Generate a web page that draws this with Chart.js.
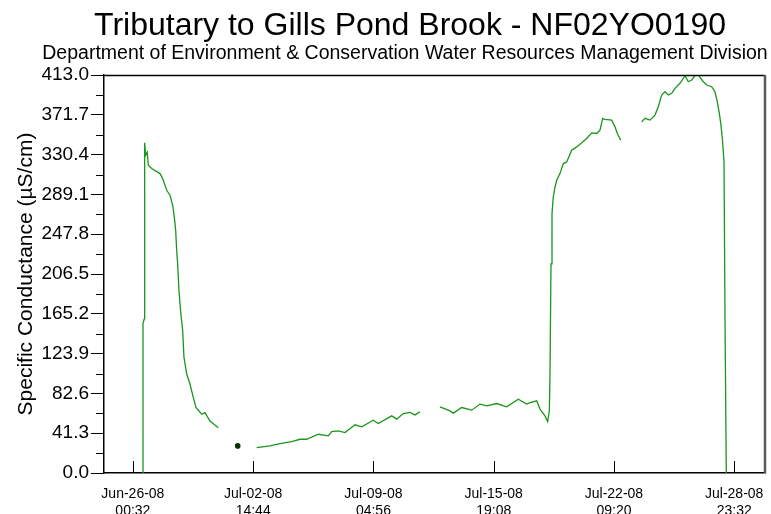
<!DOCTYPE html>
<html>
<head>
<meta charset="utf-8">
<script src="https://cdn.jsdelivr.net/npm/chart.js@4"></script>
<style>
  html, body { margin: 0; padding: 0; background: #fff; }
  #wrap { width: 771px; height: 514px; position: relative; }
</style>
</head>
<body>
<div id="wrap"><canvas id="c" width="771" height="514"></canvas></div>
<script>
// hours since Jun-26-08 00:32, null = gap in record
const hours = [
  12.9, 13.3, 15.0, 15.5, 16.8, 18.9, 20.3, 24.7, 35.7, 39.2, 44.5, 48.8, 52.4, 54.5, 56.3, 57.6,
  58.9, 60.6, 62.9, 65.5, 67.2, 70.8, 75.1, 79.5, 83.0, 90.5, 94.8, 101.4, 112.3, 125.0,
  137.9, 150.0,
  162.9, 180.4, 193.5, 208.9, 219.8, 228.6, 243.9, 257.0, 261.5, 270.2, 279.0, 292.2, 301.0,
  316.2, 322.8, 340.4, 347.0, 355.7, 364.5, 371.1, 377.7, 390.0,
  404.0, 417.1, 421.5, 432.5, 445.7, 456.6, 465.4, 478.6, 491.7, 507.0, 518.0, 522.4, 531.2,
  535.5, 542.1, 545.6, 547.8, 548.7, 550.0, 551.3, 553.0, 555.3, 557.5, 561.8, 566.2, 570.6,
  577.2, 583.8, 590.4, 597.0, 603.5, 610.1, 614.4, 618.0, 621.0, 629.8, 634.2, 637.2, 641.7, 655.0,
  669.3, 673.6, 680.2, 686.8, 691.1, 695.6, 699.9, 704.3, 708.8, 713.1, 719.7, 726.3, 730.6,
  735.1, 739.4, 743.8, 750.4, 754.8, 761.4, 765.7, 768.8, 771.4, 773.3, 775.4, 777.6, 778.9, 780.6
];
const conductance = [
  0, 155, 160, 342.6, 329.8, 333, 319.4, 316, 310.7, 305.5, 293.4, 288.2, 277.8, 265.6, 251.8, 231,
  217, 189.3, 166.8, 147.7, 120, 102.7, 92.3, 78.3, 68, 61, 62.7, 54, 47, null,
  28.1, null,
  26.3, 28.1, 30.5, 32.6, 35, 35, 40.2, 38.5, 43, 43.7, 42, 50, 47.9,
  54.8, 51.3, 59.3, 55.9, 61.7, 62.8, 60.3, 63.5, null,
  68.7, 64.5, 62.1, 67.9, 65.2, 71.5, 69.7, 72.1, 68.7, 76.6, 71.5, 73.1, 74.9,
  66.3, 59.3, 53.4, 64.5, 104.4, 217, 269, 286.4, 296.8, 303.8, 310.7, 321.1, 322.8,
  335, 338.4, 342.6, 347.1, 353, 352.3, 355.8, 367.9, 366.9, 366.2, 359.2, 352.3, 345.4, null,
  364.4, 368, 366.2, 371.4, 380, 392.2, 395.6, 392.2, 394, 399.2, 404.4, 412.3, 406,
  407.8, 412.3, 413, 406, 402.6, 400.8, 395.6, 385.2, 373.1, 362.8, 347, 322.8, 158, 0
];

const xTickHours = [0, 158.2, 316.4, 474.6, 632.8, 791.0];
const xTickDates = ['Jun-26-08', 'Jul-02-08', 'Jul-09-08', 'Jul-15-08', 'Jul-22-08', 'Jul-28-08'];
const xTickTimes = ['00:32', '14:44', '04:56', '19:08', '09:20', '23:32'];
const yTicks = [0, 41.3, 82.6, 123.9, 165.2, 206.5, 247.8, 289.1, 330.4, 371.7, 413.0];
const yMinorTicks = [20.65, 61.95, 103.25, 144.55, 185.85, 227.15, 268.45, 309.75, 351.05, 392.35];

const title = 'Tributary to Gills Pond Brook - NF02YO0190';
const subtitle = 'Department of Environment & Conservation Water Resources Management Division';

const points = hours.map((h, i) => ({ x: h, y: conductance[i] }));

function isolated(i) {
  if (conductance[i] === null) return false;
  const prev = i > 0 ? conductance[i - 1] : null;
  const next = i < conductance.length - 1 ? conductance[i + 1] : null;
  return prev === null && next === null;
}

function noPad(scale) {
  scale.paddingLeft = 0;
  scale.paddingRight = 0;
  scale.paddingTop = 0;
  scale.paddingBottom = 0;
}

const framePlugin = {
  id: 'frame',
  afterDraw(chart) {
    const ctx = chart.ctx;
    const a = chart.chartArea;
    const xs = chart.scales.x, ys = chart.scales.y;
    ctx.save();
    // titles
    ctx.fillStyle = '#000';
    ctx.textAlign = 'center';
    ctx.textBaseline = 'alphabetic';
    ctx.font = '32px "Liberation Sans", Arial, sans-serif';
    ctx.fillText(title, 410, 35);
    ctx.font = '19.5px "Liberation Sans", Arial, sans-serif';
    ctx.fillText(subtitle, 405, 59);

    // top and right border
    ctx.strokeStyle = '#000';
    ctx.lineWidth = 1.5;
    ctx.beginPath();
    ctx.moveTo(a.left, a.top + 0.5);
    ctx.lineTo(a.right, a.top + 0.5);
    ctx.stroke();
    ctx.strokeStyle = '#5a5a5a';
    ctx.lineWidth = 2.5;
    ctx.beginPath();
    ctx.moveTo(a.right, a.top);
    ctx.lineTo(a.right, a.bottom);
    ctx.stroke();

    // minor y ticks
    ctx.strokeStyle = '#000';
    ctx.lineWidth = 1;
    yMinorTicks.forEach(v => {
      const y = Math.round(ys.getPixelForValue(v)) + 0.5;
      ctx.beginPath();
      ctx.moveTo(a.left - 8, y);
      ctx.lineTo(a.left, y);
      ctx.stroke();
    });
    // x ticks pointing into the plot
    xTickHours.forEach(h => {
      const x = Math.round(xs.getPixelForValue(h)) + 0.5;
      ctx.beginPath();
      ctx.moveTo(x, a.bottom);
      ctx.lineTo(x, a.bottom - 12);
      ctx.stroke();
    });
    ctx.restore();
  }
};

new Chart(document.getElementById('c'), {
  type: 'line',
  data: {
    datasets: [{
      data: points,
      borderColor: '#1a961a',
      borderWidth: 1.3,
      spanGaps: false,
      tension: 0,
      pointRadius: ctx => isolated(ctx.dataIndex) ? 2.8 : 0,
      pointBackgroundColor: '#003300',
      pointBorderColor: '#003300',
      pointBorderWidth: 0
    }]
  },
  options: {
    responsive: false,
    animation: false,
    layout: { padding: { top: 75, right: 6, left: 0, bottom: 0 } },
    plugins: {
      legend: { display: false },
      tooltip: { enabled: false }
    },
    scales: {
      x: {
        type: 'linear',
        min: -38,
        max: 831.5,
        grid: { display: false, drawTicks: false },
        border: { display: true, color: '#000', width: 1.5 },
        afterBuildTicks: scale => { scale.ticks = xTickHours.map(v => ({ value: v })); },
        afterFit: scale => { scale.height = 41; noPad(scale); },
        ticks: {
          autoSkip: false,
          maxRotation: 0,
          padding: 13,
          color: '#000',
          font: { family: '"Liberation Sans", Arial, sans-serif', size: 14 },
          callback: (v, i) => [xTickDates[i], xTickTimes[i]]
        }
      },
      y: {
        min: 0,
        max: 413,
        grid: { display: true, drawOnChartArea: false, drawTicks: true, tickLength: 13, color: '#000' },
        border: { display: true, color: '#000', width: 1.5 },
        afterBuildTicks: scale => { scale.ticks = yTicks.map(v => ({ value: v })); },
        afterFit: scale => { scale.width = 104; noPad(scale); },
        ticks: {
          padding: 2,
          color: '#000',
          font: { family: '"Liberation Sans", Arial, sans-serif', size: 19 },
          callback: v => Number(v).toFixed(1)
        },
        title: {
          display: true,
          text: 'Specific Conductance (µS/cm)',
          color: '#000',
          padding: { top: 14, bottom: 0 },
          font: { family: '"Liberation Sans", Arial, sans-serif', size: 21 }
        }
      }
    }
  },
  plugins: [framePlugin]
});
</script>
</body>
</html>
